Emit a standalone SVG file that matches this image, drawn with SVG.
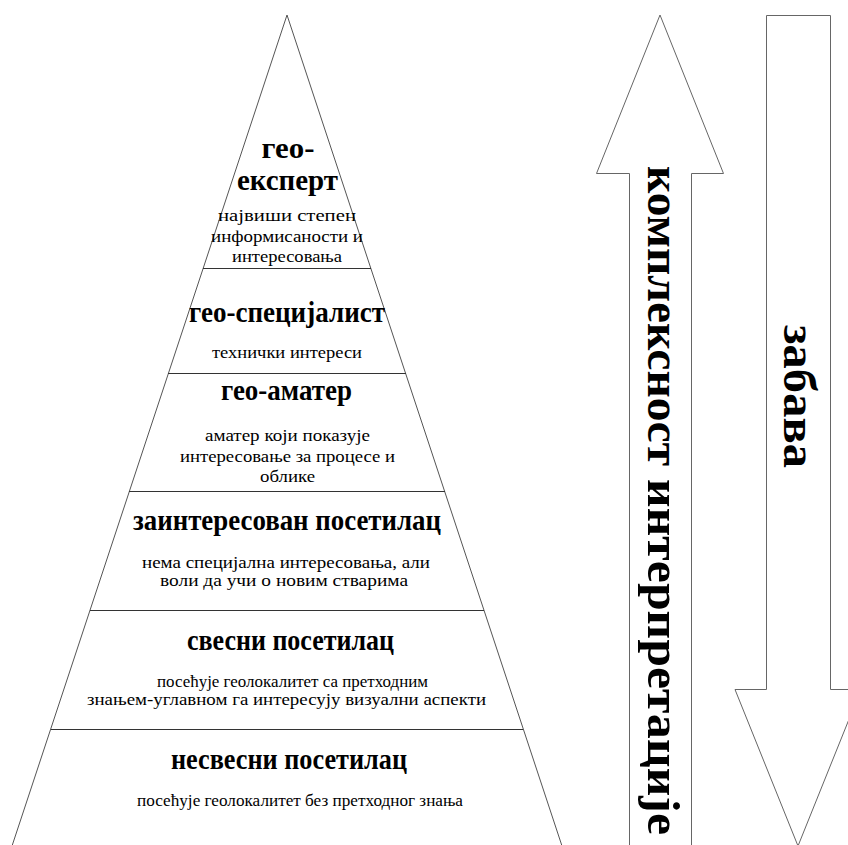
<svg xmlns="http://www.w3.org/2000/svg" width="848" height="845" viewBox="0 0 848 845">
<style>
.edge{fill:#fff;stroke:#555;stroke-width:1}
.sep{stroke:#333;stroke-width:1}
.arrow{fill:#fff;stroke:#666;stroke-width:1}
.t{font-family:"Liberation Serif","Times New Roman",serif;font-weight:bold;font-size:30px;fill:#000;text-anchor:middle}
.d{font-family:"Liberation Serif","Times New Roman",serif;font-size:16px;fill:#000;text-anchor:middle}
.v{font-family:"Liberation Serif","Times New Roman",serif;font-weight:bold;font-size:47px;fill:#000;text-anchor:start}
</style>
<rect width="848" height="845" fill="#fff"/>
<g id="pyramid">
<polygon class="edge" points="287,15 562,846 12,846"/>
</g>
<g id="layer-geo-expert">
<text class="t" x="288" y="158" textLength="53" lengthAdjust="spacingAndGlyphs">гео-</text>
<text class="t" x="287.5" y="190" textLength="101" lengthAdjust="spacingAndGlyphs">експерт</text>
<text class="d" x="287" y="221" textLength="138" lengthAdjust="spacingAndGlyphs">највиши степен</text>
<text class="d" x="287" y="242" textLength="152" lengthAdjust="spacingAndGlyphs">информисаности и</text>
<text class="d" x="287" y="262" textLength="110" lengthAdjust="spacingAndGlyphs">интересовања</text>
</g>
<g id="layer-geo-specialist">
<line class="sep" x1="203" y1="268.5" x2="371" y2="268.5"/>
<text class="t" x="287" y="322" textLength="196" lengthAdjust="spacingAndGlyphs">гео-специјалист</text>
<text class="d" x="287" y="358" textLength="150" lengthAdjust="spacingAndGlyphs">технички интереси</text>
</g>
<g id="layer-geo-amateur">
<line class="sep" x1="168" y1="373.5" x2="406" y2="373.5"/>
<text class="t" x="286.5" y="400" textLength="131" lengthAdjust="spacingAndGlyphs">гео-аматер</text>
<text class="d" x="287.5" y="441" textLength="165" lengthAdjust="spacingAndGlyphs">аматер који показује</text>
<text class="d" x="287.5" y="462" textLength="215" lengthAdjust="spacingAndGlyphs">интересовање за процесе и</text>
<text class="d" x="287.5" y="482" textLength="55" lengthAdjust="spacingAndGlyphs">облике</text>
</g>
<g id="layer-interested-visitor">
<line class="sep" x1="129" y1="491.5" x2="445" y2="491.5"/>
<text class="t" x="287" y="530" textLength="308" lengthAdjust="spacingAndGlyphs">заинтересован посетилац</text>
<text class="d" x="286" y="568" textLength="288" lengthAdjust="spacingAndGlyphs">нема специјална интересовања, али</text>
<text class="d" x="284" y="586" textLength="248" lengthAdjust="spacingAndGlyphs">воли да учи о новим стварима</text>
</g>
<g id="layer-conscious-visitor">
<line class="sep" x1="90" y1="610.5" x2="484" y2="610.5"/>
<text class="t" x="290.5" y="650" textLength="207" lengthAdjust="spacingAndGlyphs">свесни посетилац</text>
<text class="d" x="292.5" y="687" textLength="271" lengthAdjust="spacingAndGlyphs">посећује геолокалитет са претходним</text>
<text class="d" x="286.5" y="705" textLength="399" lengthAdjust="spacingAndGlyphs">знањем-углавном га интересују визуални аспекти</text>
</g>
<g id="layer-unconscious-visitor">
<line class="sep" x1="51" y1="729.5" x2="523" y2="729.5"/>
<text class="t" x="289" y="769" textLength="236" lengthAdjust="spacingAndGlyphs">несвесни посетилац</text>
<text class="d" x="300" y="806" textLength="326" lengthAdjust="spacingAndGlyphs">посећује геолокалитет без претходног знања</text>
</g>
<g id="arrow-complexity">
<polygon class="arrow" points="660,15 723.5,173.5 691.5,173.5 691.5,850 629.5,850 629.5,173.5 596.5,173.5"/>
<text class="v" transform="translate(648,166) rotate(90)"><tspan x="0" y="0" textLength="300" lengthAdjust="spacingAndGlyphs">комплексност</tspan><tspan x="313" y="0" textLength="356" lengthAdjust="spacingAndGlyphs">интерпретације</tspan></text>
</g>
<g id="arrow-fun">
<polygon class="arrow" points="766.5,15.5 830.5,15.5 830.5,689.5 861,689.5 798,846 735,689.5 766.5,689.5"/>
<text class="v" transform="translate(784,325) rotate(90)" textLength="143" lengthAdjust="spacingAndGlyphs">забава</text>
</g>
<g id="connectors"/>
</svg>
